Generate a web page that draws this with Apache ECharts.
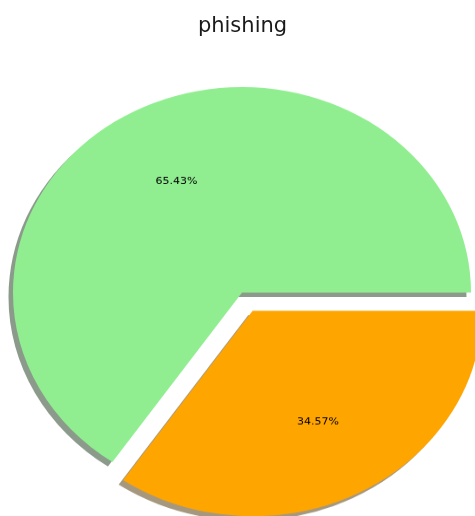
<!DOCTYPE html>
<html>
<head>
<meta charset="utf-8">
<script src="https://cdn.jsdelivr.net/npm/echarts@6/dist/echarts.min.js"></script>
<style>
  html, body { margin: 0; padding: 0; background: #fff; overflow: hidden; }
  #wrap { position: relative; width: 475px; height: 516px; overflow: hidden; }
  /* the pie is drawn as an ellipse: squeeze the pie canvas vertically */
  #pie { position: absolute; left: 0; top: 0; width: 475px; height: 575px;
         transform: scaleY(0.8974); transform-origin: 0 0; }
  #title { position: absolute; left: 5px; top: 0; width: 475px; height: 50px; }
</style>
</head>
<body>
<div id="wrap">
  <div id="pie"></div>
  <div id="title"></div>
</div>
<script>
// class shares
const categories = ['legit', 'phishing'];
const shares = [65.43, 34.57];
const sliceColors = ['#90EE90', '#FFA500'];
const shadowColors = ['rgba(43,71,43,0.55)', 'rgba(76,50,0,0.5)'];
const exploded = [false, true];

const R = 229;
const center = [242, 326];
const explodeOffset = 0.1 * R;

const sliceData = categories.map((name, i) => ({
  name: name,
  value: shares[i],
  selected: exploded[i],
  itemStyle: {
    color: sliceColors[i],
    shadowColor: shadowColors[i],
    shadowBlur: 0,
    shadowOffsetX: -4.5,
    shadowOffsetY: 5
  }
}));

const labelData = categories.map((name, i) => ({
  name: name,
  value: shares[i],
  selected: exploded[i]
}));

const pie = echarts.init(document.getElementById('pie'), null, { renderer: 'canvas' });
pie.setOption({
  animation: false,
  series: [
    {
      type: 'pie',
      center: center,
      radius: [0, R],
      startAngle: 0,
      clockwise: false,
      selectedMode: 'single',
      selectedOffset: explodeOffset,
      silent: true,
      label: { show: false },
      labelLine: { show: false },
      emphasis: { disabled: true },
      data: sliceData
    },
    {
      // transparent ring carrying the percentage labels at 0.6 of the radius
      type: 'pie',
      center: center,
      radius: [0, 1.2 * R],
      startAngle: 0,
      clockwise: false,
      selectedMode: 'single',
      selectedOffset: explodeOffset,
      silent: true,
      itemStyle: { color: 'rgba(0,0,0,0)' },
      label: {
        show: true,
        position: 'inside',
        fontFamily: 'DejaVu Sans',
        fontSize: 11,
        color: '#000',
        formatter: p => p.value.toFixed(2) + '%'
      },
      labelLine: { show: false },
      emphasis: { disabled: true },
      data: labelData
    }
  ]
});

const title = echarts.init(document.getElementById('title'));
title.setOption({
  animation: false,
  title: {
    text: 'phishing',
    left: 'center',
    top: 11,
    textStyle: { fontFamily: 'DejaVu Sans', fontSize: 21, fontWeight: 'normal', color: '#1a1a1a' }
  }
});
</script>
</body>
</html>
